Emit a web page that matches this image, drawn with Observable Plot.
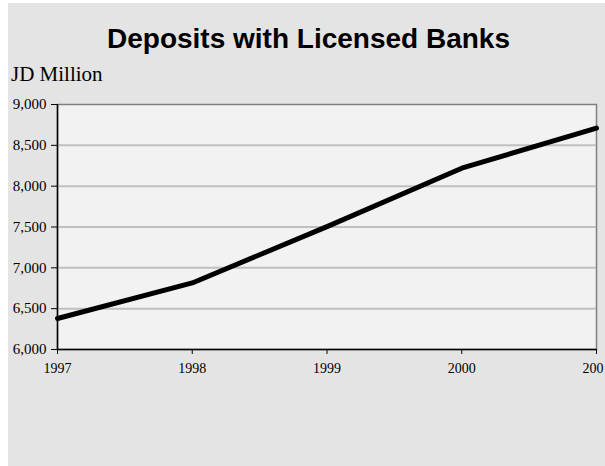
<!DOCTYPE html>
<html><head><meta charset="utf-8">
<script src="https://cdn.jsdelivr.net/npm/d3@7"></script>
<script src="https://cdn.jsdelivr.net/npm/@observablehq/plot@0.6"></script>
<style>
html,body{margin:0;padding:0;background:#fff;width:605px;height:466px;overflow:hidden;}
#bg{position:absolute;left:8px;top:3px;width:597px;height:463px;background:#e4e4e4;}
#title{position:absolute;left:10px;width:597px;top:23px;text-align:center;font-family:"Liberation Sans",Arial,sans-serif;font-weight:bold;font-size:28px;color:#000;margin:0;}
#unit{position:absolute;left:11px;top:62px;font-family:"Liberation Serif","Times New Roman",serif;font-size:21px;color:#000;}
#chart{position:absolute;left:8px;top:90px;}
#chart svg{overflow:visible;}
</style></head><body>
<div id="bg"></div>
<div id="title">Deposits with Licensed Banks</div>
<div id="unit">JD Million</div>
<div id="chart"></div>
<script>
const years = [1997, 1998, 1999, 2000, 2001];
const deposits = [6380, 6815, 7505, 8220, 8710];
const yTicks = [6000, 6500, 7000, 7500, 8000, 8500, 9000];
const gridTicks = [6500, 7000, 7500, 8000, 8500];

const data = years.map((y, i) => ({year: y, value: deposits[i]}));
const serif = "Liberation Serif";

const chart = Plot.plot({
  width: 597,
  height: 300,
  marginLeft: 49,
  marginRight: 9,
  marginTop: 14,
  marginBottom: 41,
  style: {color: "#000", background: "transparent"},
  x: {domain: [1997, 2001], label: null, axis: null},
  y: {domain: [6000, 9000], label: null, axis: null},
  marks: [
    Plot.frame({fill: "#f2f2f2", stroke: "#808080", strokeWidth: 1.5}),
    Plot.ruleY(gridTicks, {stroke: "#c0c0c0", strokeWidth: 2}),
    Plot.ruleX([years[0]], {stroke: "#000", strokeWidth: 1.5}),
    Plot.ruleY([yTicks[0]], {stroke: "#000", strokeWidth: 1.5}),
    Plot.axisX({ticks: years, tickFormat: d => String(d), tickSize: 5, tickPadding: 9, stroke: "#000", label: null, fontSize: 14, fontFamily: serif, fill: "#000"}),
    Plot.axisY({ticks: yTicks, tickFormat: d3.format(","), tickSize: 6, tickPadding: 5, stroke: "#000", label: null, fontSize: 15, fontFamily: serif, fill: "#000"}),
    Plot.line(data, {x: "year", y: "value", stroke: "#000", strokeWidth: 5})
  ]
});
document.getElementById("chart").appendChild(chart);
</script>
</body></html>
